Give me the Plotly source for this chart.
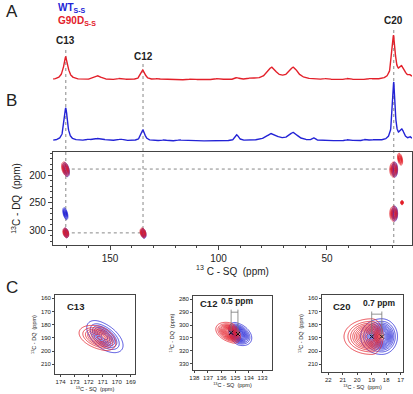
import numpy as np
import plotly.graph_objects as go

W, H = 413, 394
RED = "#e3202a"
BLUE = "#2323d6"
FONT = "Arial, Liberation Sans, sans-serif"

# ---------------- data ----------------
# Panel A 1D spectra: peak positions (ppm), heights, half widths (ppm)
blue_pos = [170.4, 134.8, 19.2, 15.4, 91.5, 75.5, 65.5, 56.0, 155.0, 145.0, 160.0, 125.0, 118.0, 40.0, 32.0, 28.0, 11.5]
blue_h   = [33,    11,    58,   10,   6,    7,    8,    2.5,  2.5,   1.5,   1.2,   1.0,   1.0,   1.5,  1.5,  1.0,  3.0]
blue_w   = [0.9,   1.0,   0.7,  1.2,  0.9,  3.0,  2.4,  0.8,  2.5,   1.5,   1.0,   1.0,   1.0,   1.0,  1.0,  1.0,  0.8]
red_pos  = [170.4, 134.8, 19.3, 15.4, 155.5, 75.5, 65.5, 91.5, 145.0, 128.0, 112.0, 100.0, 85.0, 50.0, 40.0, 30.0, 11.5]
red_h    = [23,    10,    43,   12,   4,     12,   12,   2,    1.5,   1.2,   1.0,   1.5,   1.2,  1.2,  1.5,  1.0,  3.0]
red_w    = [1.2,   1.1,   0.9,  1.6,  1.8,   2.5,  2.5,  1.0,  1.5,   1.2,   1.5,   1.5,   1.5,  1.2,  1.2,  1.2,  1.0]
blue_base, red_base = 9, 70

labels_A = ["C13", "C12", "C20"]
labels_A_ppm = [170.4, 134.8, 19.2]
labels_A_y = [102, 86, 122]

# Panel B 2D peaks: (SQ ppm, DQ ppm, sigma SQ, sigma DQ, corr)
b_red  = [(170.6, 189, 0.9, 6.5, -0.4), (170.4, 305, 0.7, 4.5, -0.3), (134.8, 305, 0.7, 4.5, -0.3),
          (19.3, 190, 0.9, 7.0, 0.0), (19.3, 270, 0.9, 7.0, 0.0), (16.3, 171, 0.6, 5.5, -0.4), (15.4, 250, 0.3, 2.0, 0.0)]
b_blue = [(170.3, 190, 0.8, 6.5, -0.4), (170.6, 270, 0.6, 5.5, -0.5), (170.3, 305, 0.6, 4.5, -0.3),
          (134.6, 306, 0.6, 4.5, -0.3), (18.8, 190, 0.7, 7.0, 0.0), (18.8, 270, 0.7, 7.0, 0.0)]
guide_h = [(189, 170.4, 19.2), (305, 170.4, 134.8)]

# Panel C zooms: (SQ, DQ, sigma left (high ppm), sigma right, sigma DQ, corr)
c13_red  = (171.2, 190, 0.72, 0.55, 4.6, -0.4)
c13_blue = (170.9, 189, 0.55, 0.6, 5.4, -0.55)
c12_red  = (135.3, 306, 0.5, 0.3, 3.6, -0.35)
c12_blue = (134.8, 307, 0.3, 0.45, 4.0, -0.35)
c20_red  = (19.0, 189, 0.85, 0.35, 6.0, 0.0)
c20_blue = (18.3, 189, 0.65, 0.48, 6.0, 0.0)
shift_labels = ["0.5 ppm", "0.7 ppm"]

# ---------------- helpers ----------------
def lorentz_sum(x, pos, h, w, base):
    y = np.full_like(x, float(base))
    for p, hh, ww in zip(pos, h, w):
        y += hh / (1 + ((x - p) / ww) ** 2)
    return y

def gauss2d(x0, y0, sl, sr, sy, rho, xr, yr, nx=90, ny=90):
    xs = np.linspace(x0 - xr, x0 + xr, nx)
    ys = np.linspace(y0 - yr, y0 + yr, ny)
    X, Y = np.meshgrid(xs, ys)
    sx = np.where(X > x0, sl, sr)
    u = (X - x0) / sx
    v = (Y - y0) / sy
    Q = (u ** 2 - 2 * rho * u * v + v ** 2) / (1 - rho ** 2)
    return xs, ys, np.exp(-0.5 * Q)

def contour(xs, ys, z, color, xa, ya, start, end, size, lw=0.9):
    return go.Contour(x=xs, y=ys, z=z, xaxis=xa, yaxis=ya, showscale=False,
                      colorscale=[[0, color], [1, color]], hoverinfo="skip",
                      contours=dict(coloring="lines", start=start, end=end, size=size),
                      line=dict(width=lw))

fig = go.Figure()

# Panel A
xs = np.arange(10.8, 176.3, 0.1)
fig.add_trace(go.Scatter(x=xs, y=lorentz_sum(xs, red_pos, red_h, red_w, red_base), mode="lines",
                         line=dict(color=RED, width=1.4), xaxis="x", yaxis="y", hoverinfo="skip"))
fig.add_trace(go.Scatter(x=xs, y=lorentz_sum(xs, blue_pos, blue_h, blue_w, blue_base), mode="lines",
                         line=dict(color=BLUE, width=1.4), xaxis="x", yaxis="y", hoverinfo="skip"))

# Panel B
for pk in b_blue:
    x0, y0, sx, sy, r = pk
    gx, gy, z = gauss2d(x0, y0, sx, sx, sy, r, 3.0, 25, 70, 70)
    fig.add_trace(contour(gx, gy, z, BLUE, "x2", "y2", 0.15, 0.95, 0.13, 0.8))
for pk in b_red:
    x0, y0, sx, sy, r = pk
    gx, gy, z = gauss2d(x0, y0, sx, sx, sy, r, 3.0, 25, 70, 70)
    fig.add_trace(contour(gx, gy, z, RED, "x2", "y2", 0.15, 0.95, 0.13, 0.8))

# Panel C
for (pk, col, xa, ya, st, sz) in [
        (c13_blue, BLUE, "x3", "y3", 0.08, 0.12), (c13_red, RED, "x3", "y3", 0.12, 0.12),
        (c12_blue, BLUE, "x4", "y4", 0.08, 0.07), (c12_red, RED, "x4", "y4", 0.08, 0.07),
        (c20_blue, BLUE, "x5", "y5", 0.08, 0.075), (c20_red, RED, "x5", "y5", 0.08, 0.075)]:
    x0, y0, sl, sr, sy, r = pk
    gx, gy, z = gauss2d(x0, y0, sl, sr, sy, r, 3.5, 30, 140, 120)
    fig.add_trace(contour(gx, gy, z, col, xa, ya, st, 0.97, sz, 0.8))

# center markers in C12 / C20
for pk, xa, ya in [(c12_red, "x4", "y4"), (c12_blue, "x4", "y4"), (c20_red, "x5", "y5"), (c20_blue, "x5", "y5")]:
    fig.add_trace(go.Scatter(x=[pk[0]], y=[pk[1]], mode="markers", xaxis=xa, yaxis=ya,
                             marker=dict(symbol="x-thin", size=4, line=dict(color="black", width=1)),
                             hoverinfo="skip"))

# ---------------- layout ----------------
def py(px):
    return 1 - px / H

def pxx(px):
    return px / W

xr_main = [176.3, 10.8]
axis_common = dict(showline=True, linecolor="#444", linewidth=1.2, mirror=True, ticks="outside",
                   tickcolor="#444", showgrid=False, zeroline=False, automargin=False)

layout = dict(
    width=W, height=H, margin=dict(l=0, r=0, t=0, b=0, autoexpand=False), showlegend=False,
    plot_bgcolor="white", paper_bgcolor="white", font=dict(family=FONT, color="#222"),
    xaxis=dict(domain=[pxx(53), pxx(412)], range=xr_main, visible=False, automargin=False),
    yaxis=dict(domain=[py(150), py(15)], range=[0, 135], visible=False, automargin=False),
    xaxis2=dict(domain=[pxx(53), pxx(412)], range=xr_main, anchor="y2", tickvals=[150, 100, 50],
                ticklen=4, tickfont=dict(size=10), minor=dict(dtick=10, ticks="outside", ticklen=2, tickcolor="#444"),
                title=dict(text="<sup>13</sup> C - SQ  (ppm)", font=dict(size=10), standoff=4), **axis_common),
    yaxis2=dict(domain=[py(245), py(152)], range=[327, 158], anchor="x2", tickvals=[200, 250, 300],
                ticklen=4, tickfont=dict(size=10), minor=dict(dtick=10, ticks="outside", ticklen=2, tickcolor="#444"),
                title=dict(text="<sup>13</sup>C - DQ  (ppm)", font=dict(size=10), standoff=6), **axis_common),
)

c_axes = [
    ("3", [55, 135], [374, 295], [174.4, 168.7], [217.3, 157.5], list(range(174, 168, -1)), [160, 170, 180, 190, 200, 210]),
    ("4", [193, 272], [370, 296], [138.1, 132.3], [335, 277.4], list(range(138, 132, -1)), [280, 290, 300, 310, 320, 330]),
    ("5", [322, 403], [372, 295], [22.43, 16.84], [215.8, 157.5], list(range(22, 16, -1)), [160, 170, 180, 190, 200, 210]),
]
for n, xd, yd, xr, yr, xt, yt in c_axes:
    layout["xaxis" + n] = dict(domain=[pxx(xd[0]), pxx(xd[1])], range=xr, anchor="y" + n, tickvals=xt,
                               ticklen=2, tickfont=dict(size=6),
                               title=dict(text="<sup>13</sup>C - SQ  (ppm)", font=dict(size=5.5), standoff=3),
                               **axis_common)
    layout["yaxis" + n] = dict(domain=[py(yd[0]), py(yd[1])], range=yr, anchor="x" + n, tickvals=yt,
                               ticklen=2, tickfont=dict(size=6),
                               title=dict(text="<sup>13</sup>C - DQ  (ppm)", font=dict(size=5.5), standoff=3),
                               **axis_common)
for n in ["3", "4", "5"]:
    layout["xaxis" + n]["linewidth"] = 0.8
    layout["yaxis" + n]["linewidth"] = 0.8

fig.update_layout(**layout)

# guide lines
shapes = []
dot = dict(color="#888", width=1, dash="dot")
line_tops = [50, 64, 30]
line_bots = [233, 233, 245]
for ppm, t, b in zip(labels_A_ppm, line_tops, line_bots):
    shapes.append(dict(type="line", xref="x", yref="paper", x0=ppm, x1=ppm, y0=py(t), y1=py(b), line=dot, layer="below"))
for dq, xa, xb in guide_h:
    shapes.append(dict(type="line", xref="x2", yref="y2", x0=xa, x1=xb, y0=dq, y1=dq, line=dot, layer="below"))

# shift brackets in C12 / C20
for (pa, pb, xa, ya, top, lab) in [(c12_red, c12_blue, "x4", "y4", 290, shift_labels[0]),
                                   (c20_red, c20_blue, "x5", "y5", 172, shift_labels[1])]:
    gl = dict(color="#777", width=0.8)
    for pk in (pa, pb):
        shapes.append(dict(type="line", xref=xa, yref=ya, x0=pk[0], x1=pk[0], y0=top - 2, y1=pk[1], line=gl))
    shapes.append(dict(type="line", xref=xa, yref=ya, x0=pa[0], x1=pb[0], y0=top, y1=top, line=gl))
    fig.add_annotation(x=(pa[0] + pb[0]) / 2 - 0.2, y=top - 3, xref=xa, yref=ya, text="<b>" + lab + "</b>",
                       showarrow=False, font=dict(size=8.5, color="#222"), yanchor="bottom", xanchor="center")
fig.update_layout(shapes=shapes)

# annotations
for lab, ppm, yy in zip(labels_A, labels_A_ppm, labels_A_y):
    fig.add_annotation(x=ppm, y=yy, xref="x", yref="y", text="<b>" + lab + "</b>", showarrow=False,
                       font=dict(size=10, color="#222"), yanchor="bottom")
for lab, xa, ya, xv, yv in [("C13", "x3", "y3", 173.7, 166), ("C12", "x4", "y4", 137.7, 283), ("C20", "x5", "y5", 21.8, 166)]:
    fig.add_annotation(x=xv, y=yv, xref=xa, yref=ya, text="<b>" + lab + "</b>", showarrow=False,
                       font=dict(size=9.5, color="#222"), xanchor="left", yanchor="middle")

for txt, x, y in [("A", 4, 11), ("B", 4, 101), ("C", 4, 287)]:
    fig.add_annotation(x=pxx(x), y=py(y), xref="paper", yref="paper", text=txt, showarrow=False,
                       font=dict(size=17, color="#222"), xanchor="left", yanchor="middle")
fig.add_annotation(x=pxx(56), y=py(8), xref="paper", yref="paper", text="<b>WT<sub>S-S</sub></b>",
                   showarrow=False, font=dict(size=10, color=BLUE), xanchor="left", yanchor="middle")
fig.add_annotation(x=pxx(56), y=py(21), xref="paper", yref="paper", text="<b>G90D<sub>S-S</sub></b>",
                   showarrow=False, font=dict(size=10, color=RED), xanchor="left", yanchor="middle")

fig.write_html("out.html", config={"displayModeBar": False},
               post_script="document.body.style.margin='0';document.body.style.overflow='hidden';")
